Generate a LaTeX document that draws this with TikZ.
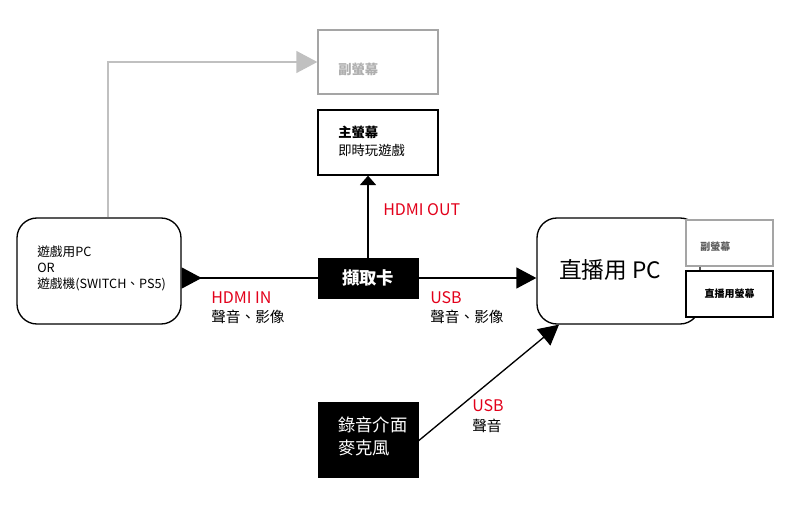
\documentclass[tikz,border=0pt]{standalone}
\usepackage{fontspec}
\setmainfont{Noto Sans CJK TC}
\usetikzlibrary{arrows.meta}
\newdimen\pxu \pxu=0.75pt
\definecolor{hred}{RGB}{226,0,26}
\definecolor{lgray}{RGB}{192,192,192}
\definecolor{bgray}{RGB}{165,165,165}
\definecolor{tgray}{RGB}{175,175,175}
\definecolor{dgray}{RGB}{95,95,95}
\begin{document}
\begin{tikzpicture}[x=0.75pt,y=-0.75pt,
  box/.style={draw=black,line width=1pt,inner sep=0pt,fill=white},
  rbox/.style={box,rounded corners=15pt},
  blackbox/.style={draw=black,fill=black,inner sep=0pt,text=white},
  lbl/.style={anchor=west,inner sep=0pt,font=\fontsize{11}{13}\selectfont},
  redlbl/.style={lbl,text=hred,font=\fontsize{12}{14}\selectfont},
  bline/.style={draw=black,line width=1pt},
  gline/.style={draw=lgray,line width=1pt},
  bigtip/.style={-{Triangle[length=15pt,width=15.75pt]}}
]
\useasboundingbox (0,0) rectangle (806,506);

% boxes
\node[rbox,minimum width=164\pxu,minimum height=106\pxu] (game) at (99,271) {};
\node[anchor=west,inner sep=0pt,align=left,font=\fontsize{9.5}{12}\selectfont] (gametxt) at (37,268) {遊戲用PC\\OR\\遊戲機(SWITCH、PS5)};

\node[box,draw=bgray,minimum width=120\pxu,minimum height=64\pxu] (sub) at (378,62) {};
\node[anchor=west,inner sep=0pt,text=tgray,font=\fontsize{10}{12}\selectfont\bfseries] (subtxt) at (338,69) {副螢幕};

\node[box,minimum width=120\pxu,minimum height=65\pxu] (main) at (378,142.5) {};
\node[anchor=west,inner sep=0pt,align=left,font=\fontsize{10}{13.5}\selectfont] (maintxt) at (338,141) {{\bfseries 主螢幕}\\即時玩遊戲};

\node[blackbox,minimum width=100\pxu,minimum height=40\pxu,font=\fontsize{13}{15}\selectfont\bfseries] (cap) at (368,278) {擷取卡};

\node[blackbox,minimum width=100\pxu,minimum height=75\pxu] (audio) at (368,439.5) {};
\node[anchor=west,inner sep=0pt,align=left,text=white,font=\fontsize{13}{17.25}\selectfont] (audiotxt) at (338,436.5) {錄音介面\\麥克風};

\node[rbox,minimum width=163\pxu,minimum height=106\pxu] (live) at (618.5,271) {};
\node[inner sep=0pt,font=\fontsize{17}{19}\selectfont] (livetxt) at (610,270) {直播用 PC};

\node[box,draw=bgray,minimum width=87\pxu,minimum height=46\pxu] (sub2) at (729.5,243) {};
\node[anchor=west,inner sep=0pt,text=dgray,font=\fontsize{7.5}{9}\selectfont\bfseries] (sub2txt) at (700,247) {副螢幕};

\node[box,minimum width=87\pxu,minimum height=46\pxu,font=\fontsize{7.5}{9}\selectfont\bfseries] (livemon) at (729.5,294) {直播用螢幕};

% labels
\node[redlbl] (hdmiout) at (383,210) {HDMI OUT};
\node[redlbl] (hdmiin) at (211,298) {HDMI IN};
\node[lbl] (avin) at (211,317) {聲音、影像};
\node[redlbl] (usb1) at (430,298) {USB};
\node[lbl] (avout) at (430,317) {聲音、影像};
\node[redlbl] (usb2) at (472,406) {USB};
\node[lbl] (snd) at (472,426) {聲音};

% connectors
\draw[gline,-{Triangle[length=15.75pt,width=16.5pt]}] ([xshift=9\pxu]game.north) |- (sub.west);
\draw[bline,{Triangle[reversed,length=15pt,width=15.75pt]}-] (game.east |- cap.west) -- (cap.west);
\draw[bline,bigtip] (cap.east) -- (live.west |- cap.east);
\draw[bline,-{Triangle[length=7pt,width=12pt]}] (cap.north) -- (main.south -| cap.north);
\draw[bline,bigtip] ([yshift=-1.5\pxu]audio.east) -- ([xshift=-59.5\pxu]live.south);
\end{tikzpicture}
\end{document}
